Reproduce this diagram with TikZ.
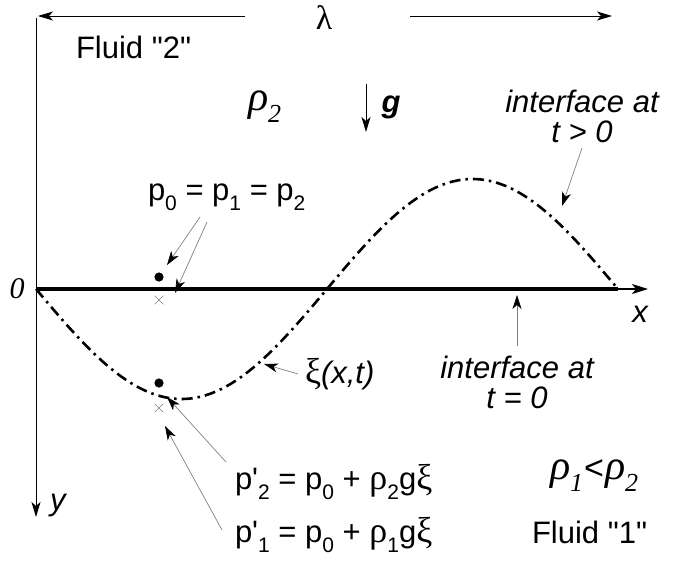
\documentclass[tikz,border=0pt]{standalone}
\usepackage{fontspec}
\newfontfamily\psf{Liberation Sans}
\newfontfamily\grk{Liberation Serif}
\usetikzlibrary{arrows.meta,shapes.misc}
\newcommand\sbs[1]{\raisebox{-0.33em}{\fontsize{21}{21}\selectfont #1}}
\newcommand\gsb[1]{\raisebox{-0.3em}{\fontsize{26}{26}\selectfont\grk\itshape #1}}
\newcommand\gr[1]{{\fontsize{36}{30}\selectfont\grk #1}}
\begin{document}
\begin{tikzpicture}[x=1pt,y=-1pt,
  font=\psf\fontsize{31}{30}\selectfont,
  txt/.style={inner sep=0pt, outer sep=0pt},
  bigarr/.style={line width=1pt, -{Stealth[length=15pt,width=9pt,inset=4pt]}},
  lblarr/.style={draw=gray, line width=0.7pt, -{Stealth[length=14pt,width=9pt,inset=4pt,color=black]}},
  wave/.style={line width=2.6pt, dash pattern=on 11pt off 5pt on 2.5pt off 5pt},
  xmark/.style={cross out, draw=gray, line width=0.6pt, minimum size=8pt, inner sep=0pt}]
\useasboundingbox (0,0) rectangle (693,565);

% axes
\coordinate (ytop) at (36,18);
\coordinate (ytip) at (36,517);
\coordinate (O) at (36,289);
\coordinate (xend) at (618,289);
\coordinate (xstart) at (605,289);
\coordinate (xtip) at (648,289);
\draw[bigarr] (ytop) -- (ytip);
\draw[line width=4pt] (O) -- (xend);
\draw[line width=1.5pt, -{Stealth[length=16pt,width=10pt,inset=4pt]}] (xstart) -- (xtip);
\node[txt, font=\fontsize{30}{30}\selectfont\grk\itshape] (zero) at (17,289) {0};
\node[txt, font=\psf\fontsize{31}{30}\selectfont\itshape] (xlab) at (640,314) {x};
\node[txt, anchor=base west, font=\psf\fontsize{31}{30}\selectfont\itshape] (ylab) at (50,510) {y};

% wavelength
\node[txt, font=\fontsize{34}{34}\selectfont\grk] (lam) at (324,18) {λ};
\coordinate (lamL) at (245,16);
\coordinate (lamLtip) at (38,16);
\coordinate (lamR) at (410,16);
\coordinate (lamRtip) at (612,16);
\draw[bigarr] (lamL) -- (lamLtip);
\draw[bigarr] (lamR) -- (lamRtip);

% fluid labels
\node[txt, anchor=base west] (fl2) at (76,58) {Fluid "2"};
\node[txt, anchor=base west] (fl1) at (532,543) {Fluid "1"};
\node[txt, anchor=base west, font=\fontsize{42}{30}\selectfont\grk\itshape] (rho2) at (248,110) {ρ\gsb{2}};
\node[txt, anchor=base west, font=\fontsize{42}{30}\selectfont\grk\itshape] (rho12) at (550,479) {ρ\gsb{1}\kern1pt{\psf\upshape\fontsize{34}{30}\selectfont <}\kern1ptρ\gsb{2}};

% gravity
\coordinate (gtop) at (366,84);
\coordinate (gtip) at (366,132);
\draw[bigarr] (gtop) -- (gtip);
\node[txt, font=\psf\fontsize{31}{30}\selectfont\bfseries\itshape] (g) at (391,107) {g};

% interface
\draw[wave] plot[domain=36:618, samples=120, smooth] (\x, {289+110*sin(0.618557*(\x-36))});

\node[txt, align=center, font=\psf\fontsize{31}{30}\selectfont\itshape] (ifup) at (582,116) {interface at\\t > 0};
\coordinate (ifupS) at (582,148);
\coordinate (ifupT) at (562,206);
\draw[lblarr] (ifupS) -- (ifupT);

\node[txt, align=center, font=\psf\fontsize{31}{30}\selectfont\itshape] (iflo) at (517,382) {interface at\\t = 0};
\coordinate (ifloS) at (517,346);
\coordinate (ifloT) at (517,295);
\draw[lblarr] (ifloS) -- (ifloT);

% points
\fill (159,277) circle (4.6pt) coordinate (d1);
\node[xmark] (x1) at (159,300) {};
\fill (159,383) circle (4.6pt) coordinate (d2);
\node[xmark] (x2) at (159,408) {};

% pressure labels
\node[txt, anchor=base west] (p0lab) at (148,200) {p\sbs{0} = p\sbs{1} = p\sbs{2}};
\coordinate (a1s) at (200,217);
\coordinate (a1t) at (167,265);
\coordinate (a2s) at (207,222);
\coordinate (a2t) at (175,293);
\draw[lblarr] (a1s) -- (a1t);
\draw[lblarr] (a2s) -- (a2t);

\node[txt, anchor=base west] (xilab) at (305,383) {\gr{ξ}\textit{(x,t)}};
\coordinate (xis) at (298,374);
\coordinate (xit) at (264,364);
\draw[lblarr] (xis) -- (xit);

\node[txt, anchor=base west] (pp2) at (235,489) {p'\sbs{2} = p\sbs{0} + \gr{ρ}\sbs{2}g\gr{ξ}};
\node[txt, anchor=base west] (pp1) at (235,542) {p'\sbs{1} = p\sbs{0} + \gr{ρ}\sbs{1}g\gr{ξ}};
\coordinate (b2s) at (226,462);
\coordinate (b2t) at (167,397);
\coordinate (b1s) at (222,530);
\coordinate (b1t) at (165,426);
\draw[lblarr] (b2s) -- (b2t);
\draw[lblarr] (b1s) -- (b1t);
\end{tikzpicture}
\end{document}
